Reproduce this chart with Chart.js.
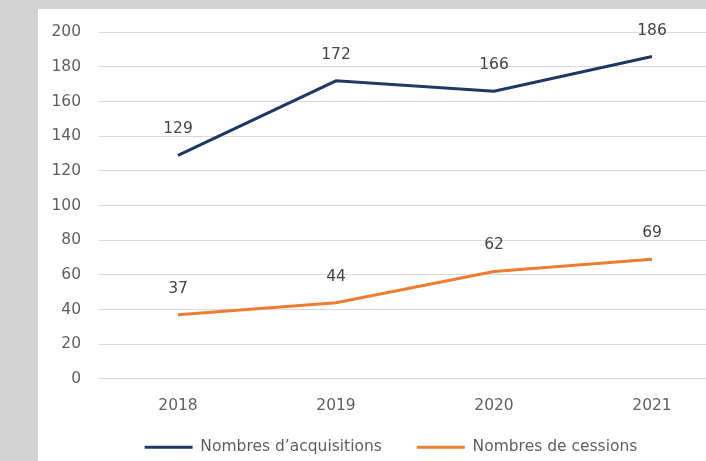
<!DOCTYPE html>
<html>
<head>
<meta charset="utf-8">
<script src="https://cdn.jsdelivr.net/npm/chart.js@4/dist/chart.umd.min.js"></script>
<style>
  html, body { margin: 0; padding: 0; width: 706px; height: 461px; overflow: hidden; background: #d3d3d3; }
  #panel { position: absolute; left: 38px; top: 9px; width: 720px; height: 490px; background: #ffffff; }
  #wrap { position: absolute; left: 0; top: -4px; width: 718px; height: 489px; }
</style>
</head>
<body>
<div id="panel"><div id="wrap"><canvas id="c"></canvas></div></div>
<script>
const years = ['2018', '2019', '2020', '2021'];
const acquisitions = [129, 172, 166, 186];
const cessions = [37, 44, 62, 69];
const seriesNames = ["Nombres d\u2019acquisitions", 'Nombres de cessions'];

const FONT = '"DejaVu Sans", sans-serif';
const SIZE = 15.5;
const TEXT = '#5f5f5f';
const LEGEND_RAISE = 29;

// Value labels written above each point of every line
const pointLabels = {
  id: 'pointLabels',
  afterDatasetsDraw(chart) {
    const ctx = chart.ctx;
    ctx.save();
    ctx.font = SIZE + 'px ' + FONT;
    ctx.fillStyle = '#454545';
    ctx.textAlign = 'center';
    ctx.textBaseline = 'middle';
    chart.data.datasets.forEach((ds, i) => {
      chart.getDatasetMeta(i).data.forEach((pt, j) => {
        ctx.fillText(String(ds.data[j]), pt.x, pt.y - 26);
      });
    });
    ctx.restore();
  }
};

// Pull the legend closer to the category labels
const legendNudge = {
  id: 'legendNudge',
  afterLayout(chart) {
    const lg = chart.legend;
    if (!lg) return;
    lg.top -= LEGEND_RAISE;
    lg.bottom -= LEGEND_RAISE;
  }
};

new Chart(document.getElementById('c'), {
  type: 'line',
  data: {
    labels: years,
    datasets: [
      { label: seriesNames[0], data: acquisitions, borderColor: '#1f3864', backgroundColor: '#1f3864',
        borderWidth: 3, pointRadius: 0, tension: 0 },
      { label: seriesNames[1], data: cessions, borderColor: '#ed7d31', backgroundColor: '#ed7d31',
        borderWidth: 3, pointRadius: 0, tension: 0 }
    ]
  },
  options: {
    responsive: true,
    maintainAspectRatio: false,
    animation: false,
    layout: { padding: { top: 18, left: 13, right: 25, bottom: 0 } },
    plugins: {
      tooltip: { enabled: false },
      legend: {
        position: 'bottom',
        labels: {
          usePointStyle: true, pointStyle: 'line', pointStyleWidth: 48, boxHeight: 4,
          padding: 35,
          color: TEXT, font: { family: FONT, size: SIZE }
        }
      }
    },
    scales: {
      x: {
        offset: true,
        grid: { display: false, drawTicks: false },
        border: { display: false },
        ticks: { color: TEXT, padding: 18, font: { family: FONT, size: SIZE } }
      },
      y: {
        min: 0, max: 200,
        ticks: { stepSize: 20, color: TEXT, padding: 18, font: { family: FONT, size: SIZE } },
        grid: { color: '#d9d9d9', drawTicks: false },
        border: { display: false },
        afterFit(axis) { axis.width = 48; }
      }
    }
  },
  plugins: [pointLabels, legendNudge]
});
</script>
</body>
</html>
